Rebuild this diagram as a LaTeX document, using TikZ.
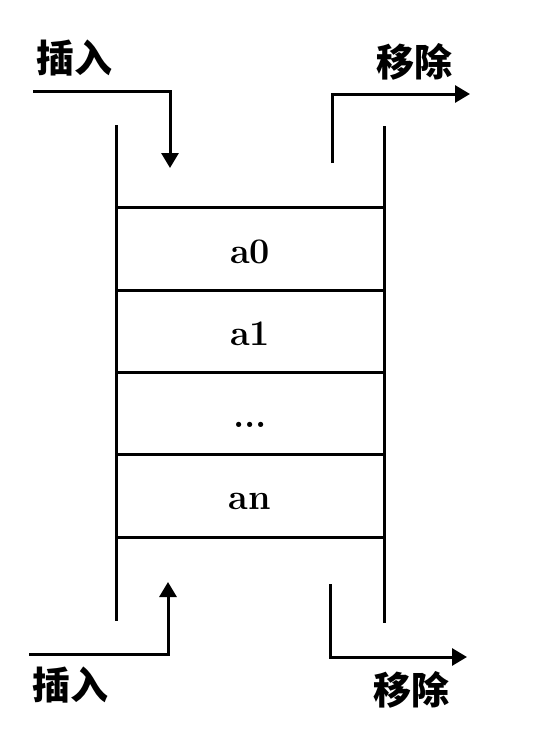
\documentclass[tikz,border=0pt]{standalone}
\usepackage{fontspec}
\newfontfamily\cjk{Noto Sans CJK SC}
\usetikzlibrary{positioning,arrows.meta}
\begin{document}
\begin{tikzpicture}[x=1pt,y=-1pt,line width=3pt]
		\tikzstyle{cell}=[draw,rectangle,minimum width=268pt,minimum height=82.3pt,inner sep=0pt,outer sep=0pt,font=\fontsize{36}{40}\selectfont\bfseries,text height=28pt,text depth=0pt];
		\tikzstyle{lbl}=[font=\cjk\fontsize{38}{42}\selectfont\bfseries,inner sep=0pt];
		\tikzstyle{arr}=[-{Triangle[length=15pt,width=17pt]},line join=miter];
		\useasboundingbox (0,0) rectangle (551,737);
		\node[cell] (a0) at (250,249) {a0};
		\node[cell,below=0pt of a0] (a1) {a1};
		\node[cell,below=0pt of a1] (d) {...};
		\node[cell,below=0pt of d] (an) {an};
		\coordinate (lt) at (116,125);
		\coordinate (lb) at (116,621);
		\coordinate (rt) at (384,126);
		\coordinate (rb) at (384,623);
		\draw (lt) -- (lb)
		(rt) -- (rb);
		\coordinate (i1) at (33,91);
		\coordinate (i2) at (170,168);
		\coordinate (o1) at (332,163);
		\coordinate (o2) at (470,94);
		\coordinate (i3) at (29,654);
		\coordinate (i4) at (168,582);
		\coordinate (o3) at (330,584);
		\coordinate (o4) at (467,657);
		\draw[arr] (i1) -| (i2);
		\draw[arr] (o1) |- (o2);
		\draw[arr] (i3) -| (i4);
		\draw[arr] (o3) |- (o4);
		\node[lbl] (t1) at (74,58) {插入};
		\node[lbl] (t2) at (414,62) {移除};
		\node[lbl] (t3) at (70,685) {插入};
		\node[lbl] (t4) at (411,690) {移除};
\end{tikzpicture}
\end{document}
